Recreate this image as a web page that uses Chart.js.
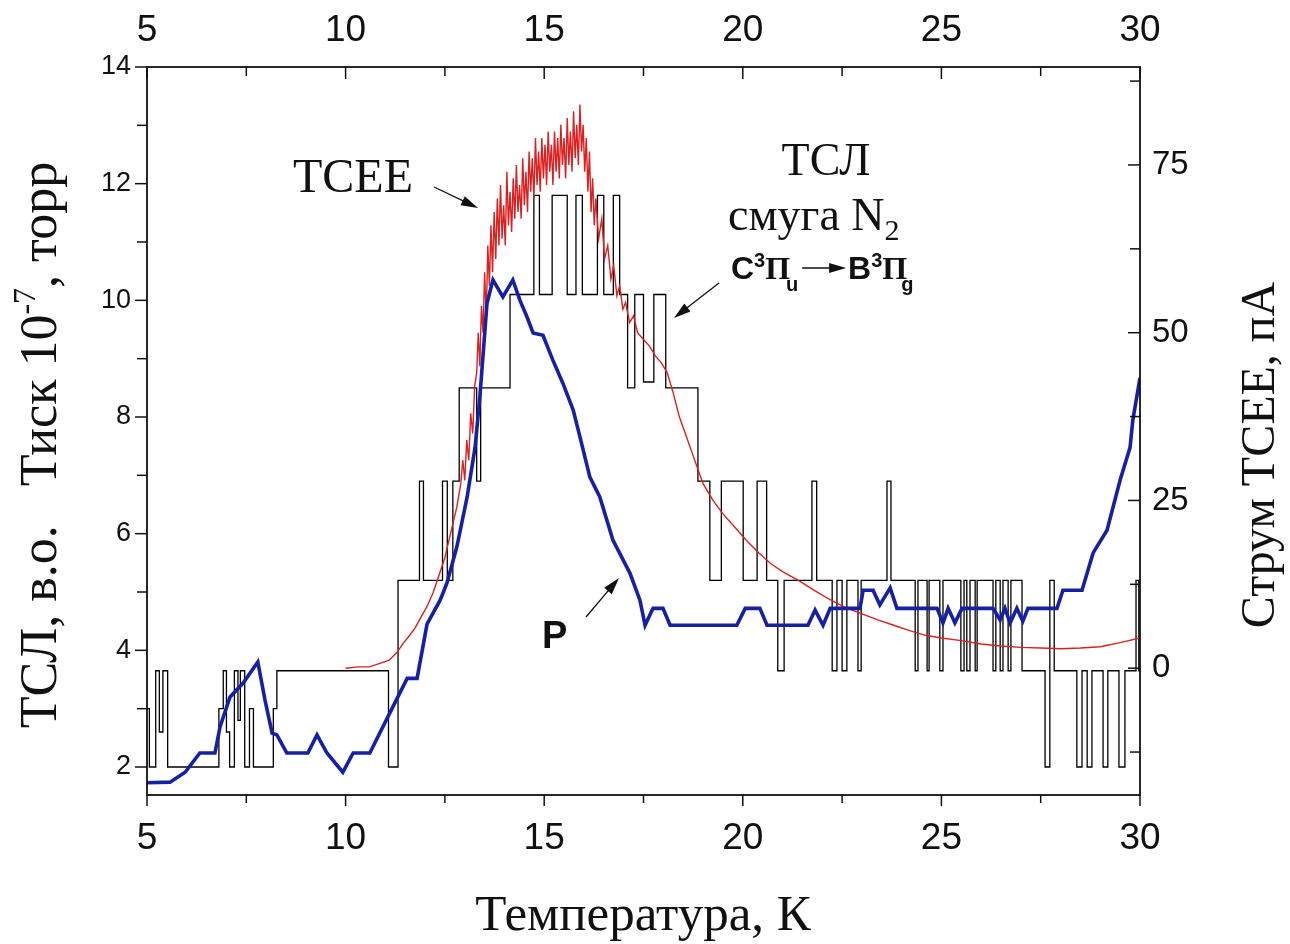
<!DOCTYPE html>
<html>
<head>
<meta charset="utf-8">
<script src="https://cdn.jsdelivr.net/npm/chart.js@4.4.0/dist/chart.umd.min.js"></script>
<style>
  html, body { margin: 0; padding: 0; background: #fff; }
</style>
</head>
<body>
<canvas id="grafico" width="1290" height="944"></canvas>
<script>
// Rótulos dos eixos
const rotulosTemp = [5, 10, 15, 20, 25, 30];
const rotulosEsq = [2, 4, 6, 8, 10, 12, 14];
const rotulosDir = [0, 25, 50, 75];

// ТСЛ (preto, degraus) - início de cada patamar
const tslT = [5.00, 5.06, 5.22, 5.31, 5.40, 5.52, 6.81, 6.92, 7.00, 7.08, 7.20, 7.29, 7.35, 7.46, 7.58, 7.68,
  8.18, 8.27, 11.08, 11.32, 11.86, 11.96, 12.44, 12.56, 12.70, 12.86, 13.30, 13.40, 14.14, 14.74, 14.88,
  15.20, 15.58, 15.80, 15.96, 16.34, 16.50, 16.74, 16.90, 17.10, 17.28, 17.50, 17.76, 18.06, 18.87, 19.17,
  19.46, 20.01, 20.36, 20.60, 20.88, 21.04, 21.74, 21.86, 22.25, 22.37, 22.50, 22.62, 22.90, 22.98, 23.63,
  23.73, 24.34, 24.41, 24.64, 24.69, 24.96, 25.04, 25.49, 25.57, 25.64, 25.72, 25.85, 25.90, 26.30, 26.37,
  26.48, 26.55, 26.68, 26.75, 27.03, 27.61, 27.73, 27.84, 28.41, 28.54, 28.67, 28.79, 29.07, 29.19, 29.47,
  29.62, 29.90, 29.97, 30.00];
const tslNivel = [3.0, 2.0, 3.65, 2.6, 3.65, 2.0, 3.0, 3.65, 2.6, 2.0, 3.65, 2.8, 3.65, 2.0, 3.0, 2.0,
  3.0, 3.65, 2.0, 5.2, 6.9, 5.2, 6.9, 5.2, 6.9, 8.5, 6.9, 8.5, 10.1, 11.8, 10.1,
  11.8, 10.1, 11.8, 10.1, 11.8, 10.1, 11.8, 10.1, 8.5, 10.1, 8.6, 10.1, 8.5, 6.9, 5.2,
  6.9, 5.2, 6.9, 5.2, 3.65, 5.2, 6.9, 5.2, 3.65, 5.2, 3.65, 5.2, 3.65, 5.2, 6.9,
  5.2, 3.65, 5.2, 3.65, 5.2, 3.65, 5.2, 3.65, 5.2, 3.65, 5.2, 3.65, 5.2, 3.65, 5.2,
  3.65, 5.2, 3.65, 5.2, 3.65, 2.0, 5.2, 3.65, 2.0, 3.65, 2.0, 3.65, 2.0, 3.65, 2.0,
  3.65, 5.2, 3.65, 3.65];

// ТСЕЕ (vermelho), corrente em пА
const tseeT = [10.0, 10.3, 10.6, 10.9, 11.1, 11.3, 11.45, 11.6, 11.75, 11.9, 12.05, 12.2, 12.35, 12.5, 12.6,
  12.7, 12.8, 12.9, 12.95, 13.0, 13.05, 13.1, 13.15, 13.2, 13.25,
  13.30, 13.34, 13.38, 13.42, 13.46, 13.50, 13.54, 13.58, 13.62, 13.66, 13.70, 13.74, 13.78, 13.82, 13.86,
  13.90, 13.94, 13.98, 14.02, 14.06, 14.10, 14.14, 14.18, 14.22, 14.26, 14.30, 14.34, 14.38, 14.42, 14.46,
  14.50, 14.54, 14.58, 14.62, 14.66, 14.70, 14.74, 14.78, 14.82, 14.86, 14.90, 14.94, 14.98, 15.02, 15.06,
  15.10, 15.14, 15.18, 15.22, 15.26, 15.30, 15.34, 15.38, 15.42, 15.46, 15.50, 15.54, 15.58, 15.62, 15.66,
  15.70, 15.74, 15.78, 15.82, 15.86, 15.90, 15.94, 15.98, 16.02, 16.06, 16.10, 16.14, 16.18, 16.22, 16.26,
  16.30, 16.37, 16.45, 16.52, 16.6, 16.68, 16.75, 16.83, 16.9, 16.98, 17.05, 17.15, 17.25, 17.35,
  17.5, 17.65, 17.8, 17.95, 18.1, 18.25, 18.4, 18.55, 18.7, 18.85,
  19.0, 19.25, 19.5, 19.8, 20.1, 20.4, 20.7, 21.0, 21.4, 21.8, 22.2, 22.6, 23.0, 23.4, 23.8, 24.2, 24.6,
  25.0, 25.5, 26.0, 26.5, 27.0, 27.5, 28.0, 28.5, 29.0, 29.5, 30.0];
const tseeCorrente = [0.0, 0.2, 0.2, 0.8, 1.2, 2.4, 3.7, 4.8, 6.0, 7.6, 9.2, 11.2, 13.8, 16.5, 19.0,
  21.5, 24.0, 27.5, 31, 28, 34, 31, 38, 35, 42,
  44, 50, 45, 54, 50, 59, 52, 63, 57, 66, 59, 68, 61, 70, 63,
  72, 64, 69, 63, 74, 66, 71, 65, 73, 67, 75, 68, 72, 67, 76,
  69, 74, 68, 77, 71, 76, 70, 79, 72, 77, 71, 79, 73, 78, 72,
  80, 74, 78, 72, 80, 74, 79, 73, 81, 75, 79, 73, 82, 75, 80,
  74, 83, 76, 81, 75, 84, 77, 81, 74, 79, 71, 77, 68, 73, 66,
  70, 64, 67, 61, 63, 58, 60, 55.5, 57, 53.5, 54.5, 51.5, 52.5, 50,
  49, 48, 46.5, 45.5, 44, 41, 37.5, 35, 32.5, 30,
  27.5, 25, 23, 21, 19, 17.2, 15.6, 14.4, 13.1, 11.6, 10.2, 9.0, 8.1, 7.2, 6.4, 5.6, 4.9,
  4.5, 4.1, 3.6, 3.3, 3.1, 3.0, 2.9, 3.0, 3.2, 3.8, 4.5];

// Тиск P (azul), 10^-7 торр
const pressT = [5.0, 5.58, 5.96, 6.33, 6.71, 6.84, 7.09, 7.42, 7.79, 7.97, 8.15, 8.27, 8.52, 9.05, 9.28,
  9.53, 9.93, 10.19, 10.61, 11.19, 11.55, 11.80, 12.05, 12.38, 12.55, 12.80, 13.06, 13.26, 13.38, 13.56,
  13.71, 13.96, 14.21, 14.39, 14.57, 14.72, 14.97, 15.22, 15.47, 15.73, 15.90, 16.15, 16.40, 16.73, 17.16,
  17.41, 17.54, 17.74, 17.99, 18.17, 19.85, 20.06, 20.43, 20.61, 21.64, 21.82, 22.02, 22.20, 22.95, 23.03,
  23.28, 23.45, 23.71, 23.88, 24.89, 25.04, 25.17, 25.34, 25.52, 26.30, 26.48, 26.60, 26.73, 26.90, 27.05,
  27.18, 27.91, 28.06, 28.54, 28.82, 29.17, 29.50, 29.75, 29.82, 30.0];
const pressValor = [1.73, 1.74, 1.91, 2.24, 2.24, 2.69, 3.2, 3.44, 3.8, 3.15, 2.58, 2.55, 2.24, 2.24, 2.55,
  2.24, 1.91, 2.24, 2.24, 3.03, 3.52, 3.52, 4.45, 4.86, 5.15, 5.77, 6.63, 7.48, 8.34, 9.95,
  10.35, 10.06, 10.35, 10.0, 9.71, 9.44, 9.4, 8.97, 8.58, 8.12, 7.66, 6.97, 6.63, 5.89, 5.32,
  4.86, 4.43, 4.72, 4.72, 4.43, 4.43, 4.72, 4.72, 4.43, 4.43, 4.69, 4.43, 4.72, 4.72, 5.03,
  5.03, 4.78, 5.07, 4.72, 4.72, 4.47, 4.72, 4.47, 4.72, 4.72, 4.52, 4.72, 4.47, 4.72, 4.5,
  4.72, 4.72, 5.03, 5.03, 5.67, 6.06, 6.92, 7.48, 7.95, 8.67];

const pontos = (xs, ys) => xs.map((x, i) => ({ x: x, y: ys[i] }));

const SANS = "'Liberation Sans', Arial, sans-serif";
const SERIF = "'Liberation Serif', 'Times New Roman', serif";

// =============================
// Funções de desenho auxiliares
// =============================
function seta(ctx, x1, y1, x2, y2) {
    const ang = Math.atan2(y2 - y1, x2 - x1);
    const c = Math.cos(ang), s = Math.sin(ang);
    ctx.beginPath();
    ctx.moveTo(x1, y1);
    ctx.lineTo(x2 - 10 * c, y2 - 10 * s);
    ctx.stroke();
    ctx.beginPath();
    ctx.moveTo(x2, y2);
    ctx.lineTo(x2 - 17 * c + 5 * s, y2 - 17 * s - 5 * c);
    ctx.lineTo(x2 - 17 * c - 5 * s, y2 - 17 * s + 5 * c);
    ctx.closePath();
    ctx.fill();
}

// partes: [texto, fonte, deslocamento vertical]
function larguraPartes(ctx, partes) {
    let w = 0;
    partes.forEach(p => { ctx.font = p[1]; w += ctx.measureText(p[0]).width; });
    return w;
}

function escrever(ctx, partes, x, y) {
    let cx = x;
    partes.forEach(p => {
        ctx.font = p[1];
        ctx.fillText(p[0], cx, y + (p[2] || 0));
        cx += ctx.measureText(p[0]).width;
    });
    return cx;
}

function escreverCentro(ctx, partes, x, y) {
    escrever(ctx, partes, x - larguraPartes(ctx, partes) / 2, y);
}

// moldura, marcas dos eixos e textos
const moldura = {
    id: "moldura",
    afterDraw(chart) {
        const ctx = chart.ctx;
        const a = chart.chartArea;
        ctx.save();
        ctx.strokeStyle = "#111";
        ctx.fillStyle = "#111";
        ctx.lineWidth = 1.8;
        ctx.strokeRect(a.left, a.top, a.right - a.left, a.bottom - a.top);

        ctx.lineWidth = 1.5;
        const marcas = (scale, rotulos, lado, maior, menor) => {
            scale.ticks.forEach(t => {
                const len = rotulos.includes(t.value) ? maior : menor;
                const p = scale.getPixelForValue(t.value);
                ctx.beginPath();
                if (lado === "baixo") { ctx.moveTo(p, a.bottom); ctx.lineTo(p, a.bottom + len); }
                if (lado === "topo") { ctx.moveTo(p, a.top); ctx.lineTo(p, a.top + len); }
                if (lado === "esq") { ctx.moveTo(a.left, p); ctx.lineTo(a.left - len, p); }
                if (lado === "dir") { ctx.moveTo(a.right, p); ctx.lineTo(a.right - len, p); }
                ctx.stroke();
            });
        };
        marcas(chart.scales.x, rotulosTemp, "baixo", 11, 8);
        marcas(chart.scales.xTopo, rotulosTemp, "topo", 12, 9);
        marcas(chart.scales.y, rotulosEsq, "esq", 12, 10);
        marcas(chart.scales.y2, rotulosDir, "dir", 12, 10);

        // títulos dos eixos
        ctx.textBaseline = "alphabetic";
        ctx.textAlign = "left";
        escreverCentro(ctx, [["Температура, К", "51px " + SERIF]], 643, 930);

        const fEsq = "52px " + SERIF;
        ctx.save();
        ctx.translate(56, 445);
        ctx.rotate(-Math.PI / 2);
        escreverCentro(ctx, [
            ["ТСЛ, в.о.   Тиск 10", fEsq],
            ["-7", "32px " + SERIF, -21],
            [", торр", fEsq]
        ], 0, 0);
        ctx.restore();

        ctx.save();
        ctx.translate(1274, 455);
        ctx.rotate(-Math.PI / 2);
        escreverCentro(ctx, [["Струм ТСЕЕ, пА", "48px " + SERIF]], 0, 0);
        ctx.restore();

        // anotações
        ctx.lineWidth = 1.3;
        escrever(ctx, [["ТСЕЕ", "48px " + SERIF]], 293, 192);
        seta(ctx, 434, 187, 478, 208);

        escreverCentro(ctx, [["ТСЛ", "46px " + SERIF]], 826, 175);
        escrever(ctx, [["смуга N", "46px " + SERIF], ["2", "30px " + SERIF, 10]], 728, 230);

        const fB = "bold 32px " + SANS;
        const fPi = "bold 32px " + SERIF;
        const fInd = "bold 20px " + SANS;
        let fim = escrever(ctx, [["C", fB], ["3", fInd, -12], ["Π", fPi]], 731, 279);
        escrever(ctx, [["u", fInd, 12]], fim - 4, 279);
        seta(ctx, fim + 12, 268, fim + 56, 268);
        fim = escrever(ctx, [["B", fB], ["3", fInd, -12], ["Π", fPi]], fim + 58, 279);
        escrever(ctx, [["g", fInd, 12]], fim - 6, 279);
        seta(ctx, 719, 283, 674, 318);

        escrever(ctx, [["P", "bold 38px " + SANS]], 542, 648);
        seta(ctx, 586, 617, 619, 578);

        ctx.restore();
    }
};

// configuração comum dos eixos
function eixo(pos, extra) {
    return Object.assign({
        position: pos,
        grid: { display: false, drawTicks: false },
        border: { display: false }
    }, extra);
}

const ctx = document.getElementById("grafico").getContext("2d");

new Chart(ctx, {
    type: "line",
    data: {
        datasets: [
            {
                label: "P",
                data: pontos(pressT, pressValor),
                yAxisID: "y",
                borderColor: "rgb(22, 32, 165)",
                borderWidth: 3.6,
                pointRadius: 0,
                tension: 0,
                order: 1
            },
            {
                label: "ТСЕЕ",
                data: pontos(tseeT, tseeCorrente),
                yAxisID: "y2",
                borderColor: "rgb(218, 32, 32)",
                borderWidth: 1.4,
                pointRadius: 0,
                tension: 0,
                order: 2
            },
            {
                label: "ТСЛ",
                data: pontos(tslT, tslNivel),
                yAxisID: "y",
                borderColor: "#000",
                borderWidth: 1.3,
                pointRadius: 0,
                stepped: true,
                order: 3
            }
        ]
    },
    options: {
        responsive: false,
        animation: false,
        devicePixelRatio: 1,
        layout: { padding: 0 },
        plugins: { legend: { display: false }, tooltip: { enabled: false } },
        scales: {
            x: eixo("bottom", {
                type: "linear", min: 5, max: 30,
                afterFit(s) { s.height = 149; },
                ticks: {
                    stepSize: 2.5, autoSkip: false, maxRotation: 0, padding: 22, color: "#111",
                    font: { family: SANS, size: 37 },
                    callback: v => rotulosTemp.includes(v) ? String(v) : ""
                }
            }),
            xTopo: eixo("top", {
                type: "linear", axis: "x", min: 5, max: 30,
                afterFit(s) { s.height = 67; },
                ticks: {
                    stepSize: 2.5, autoSkip: false, maxRotation: 0, padding: 14, color: "#111",
                    font: { family: SANS, size: 37 },
                    callback: v => rotulosTemp.includes(v) ? String(v) : ""
                }
            }),
            y: eixo("left", {
                type: "linear", min: 1.52, max: 14,
                afterFit(s) { s.width = 147; },
                ticks: {
                    stepSize: 1, includeBounds: false, autoSkip: false, padding: 16, color: "#111",
                    font: { family: SANS, size: 27 },
                    callback: v => rotulosEsq.includes(v) ? String(v) : ""
                }
            }),
            y2: eixo("right", {
                type: "linear", min: -18.9, max: 89.6,
                afterFit(s) { s.width = 150; },
                ticks: {
                    stepSize: 12.5, includeBounds: false, autoSkip: false, padding: 12, color: "#111",
                    font: { family: SANS, size: 33 },
                    callback: v => rotulosDir.includes(v) ? String(v) : ""
                }
            })
        }
    },
    plugins: [moldura]
});
</script>
</body>
</html>
